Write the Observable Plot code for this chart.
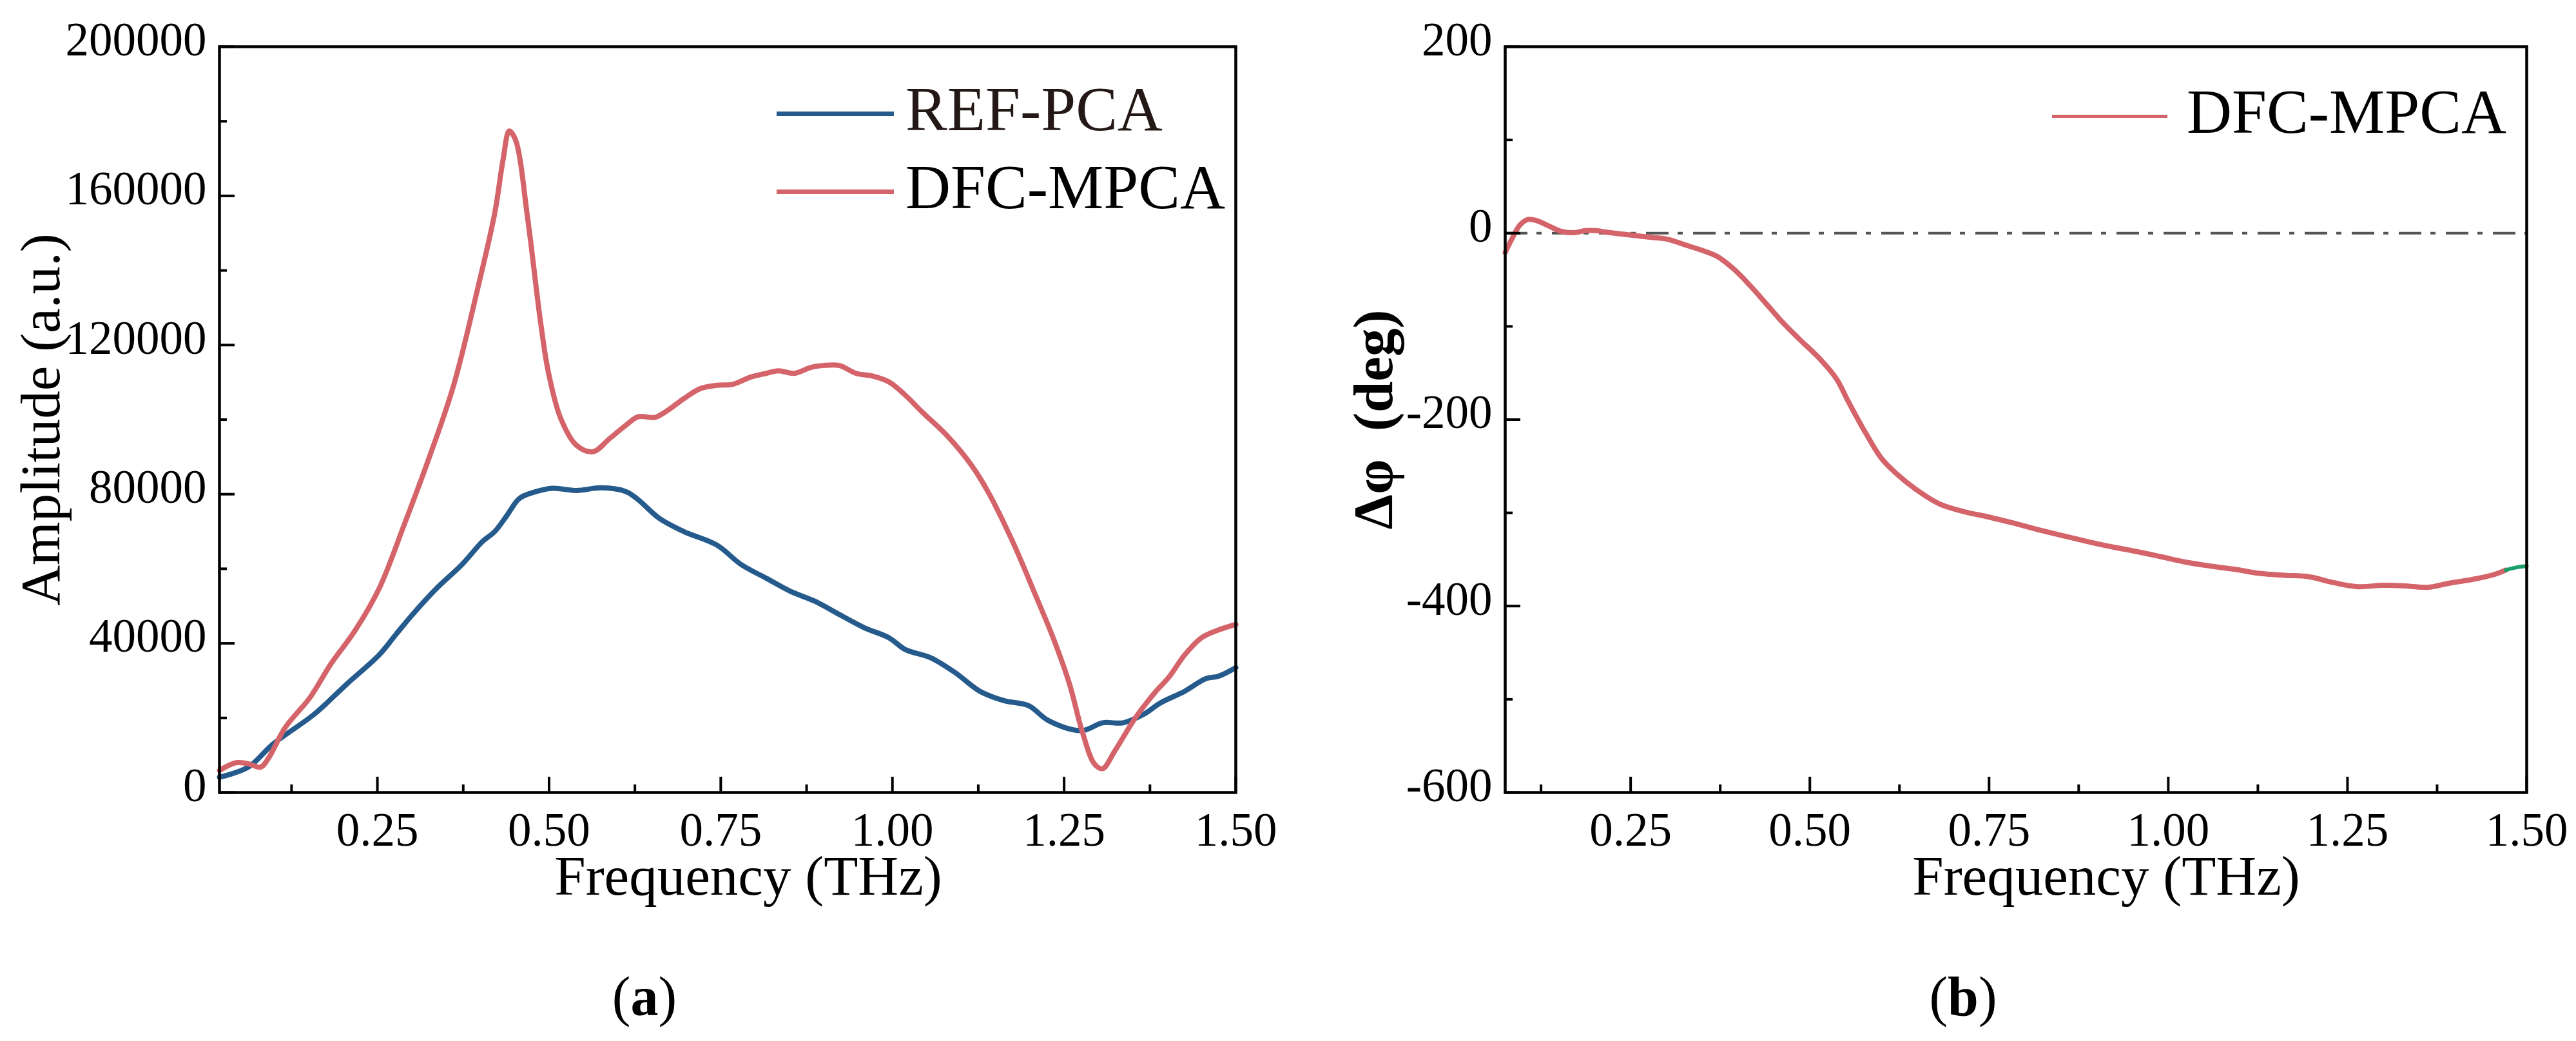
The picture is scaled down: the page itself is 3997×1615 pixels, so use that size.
<!DOCTYPE html>
<html>
<head>
<meta charset="utf-8">
<script src="https://cdn.jsdelivr.net/npm/d3@7"></script>
<script src="https://cdn.jsdelivr.net/npm/@observablehq/plot@0.6"></script>
<style>
body { margin: 0; background: #fff; font-family: "Liberation Serif", serif; }
#wrap { position: relative; width: 3997px; height: 1615px; overflow: hidden; }
.panel { position: absolute; top: 0; }
.leg-line { position: absolute; height: 0; }
.leg-text { position: absolute; font-size: 97px; line-height: 1; white-space: nowrap; }
.cap { position: absolute; font-size: 86px; line-height: 1; transform: translateX(-50%); }
</style>
</head>
<body>
<div id="wrap">
  <div id="chartA" class="panel" style="left:0"></div>
  <div id="chartB" class="panel" style="left:2000px"></div>

  <div class="leg-line" style="left:1205px;top:173px;width:182px;border-top:7px solid #255b8c"></div>
  <div class="leg-text" style="left:1405px;top:121px;color:#231815">REF-PCA</div>
  <div class="leg-line" style="left:1205px;top:294px;width:182px;border-top:7px solid #d4646a"></div>
  <div class="leg-text" style="left:1405px;top:242px;color:#000">DFC-MPCA</div>

  <div class="leg-line" style="left:3184px;top:178px;width:179px;border-top:5px solid #d4646a"></div>
  <div class="leg-text" style="left:3393px;top:125px;color:#000">DFC-MPCA</div>

  <div class="cap" style="left:1000px;top:1503px">(<b>a</b>)</div>
  <div class="cap" style="left:3046px;top:1503px">(<b>b</b>)</div>
</div>
<script>
// panel (a): amplitude spectra
const freqRef = [0.020, 0.062, 0.098, 0.158, 0.205, 0.253, 0.277, 0.301, 0.337, 0.373, 0.403, 0.421, 0.439, 0.457, 0.481, 0.505, 0.540, 0.576, 0.612, 0.630, 0.660, 0.696, 0.744, 0.780, 0.816, 0.851, 0.887, 0.923, 0.959, 0.995, 1.019, 1.055, 1.091, 1.127, 1.163, 1.198, 1.228, 1.276, 1.306, 1.336, 1.366, 1.390, 1.426, 1.456, 1.475, 1.500]
const ampRef = [4100, 6800, 13000, 21000, 29000, 37000, 42400, 47700, 54900, 61100, 67300, 70000, 74400, 78900, 80700, 81600, 81000, 81700, 80700, 78500, 73600, 70000, 66400, 61100, 57500, 54000, 51300, 47700, 44200, 41500, 38300, 36200, 32200, 27200, 24600, 23300, 19200, 16600, 18700, 18700, 21000, 24000, 27200, 30500, 31200, 33500]

const freqDfc = [0.020, 0.044, 0.062, 0.080, 0.092, 0.116, 0.152, 0.182, 0.217, 0.253, 0.289, 0.325, 0.361, 0.397, 0.421, 0.433, 0.442, 0.451, 0.469, 0.487, 0.499, 0.517, 0.540, 0.564, 0.588, 0.612, 0.630, 0.654, 0.672, 0.696, 0.720, 0.744, 0.768, 0.792, 0.816, 0.834, 0.857, 0.881, 0.899, 0.923, 0.947, 0.971, 0.995, 1.019, 1.043, 1.079, 1.115, 1.139, 1.175, 1.210, 1.234, 1.258, 1.276, 1.294, 1.306, 1.324, 1.354, 1.384, 1.402, 1.426, 1.450, 1.475, 1.500]
const ampDfc = [5900, 8000, 7700, 6800, 9400, 17500, 25500, 34400, 43300, 54900, 71800, 89600, 109200, 135900, 155500, 169700, 177400, 175100, 153700, 127000, 112700, 100300, 93100, 91400, 94900, 98500, 100800, 100600, 102400, 105600, 108300, 109200, 109500, 111300, 112400, 113100, 112400, 114000, 114500, 114500, 112400, 111700, 110100, 106500, 102100, 95800, 87800, 80700, 67300, 52200, 41500, 29000, 16600, 7700, 6400, 11200, 20100, 27200, 30800, 37000, 41500, 43600, 45100]

// panel (b): phase difference
const freqPhase = [0.075, 0.084, 0.096, 0.107, 0.119, 0.136, 0.153, 0.170, 0.187, 0.201, 0.222, 0.245, 0.279, 0.302, 0.325, 0.348, 0.371, 0.394, 0.417, 0.440, 0.462, 0.485, 0.514, 0.537, 0.554, 0.577, 0.600, 0.623, 0.646, 0.680, 0.715, 0.749, 0.783, 0.818, 0.852, 0.887, 0.921, 0.955, 0.990, 1.024, 1.059, 1.093, 1.127, 1.162, 1.196, 1.231, 1.265, 1.299, 1.334, 1.362, 1.391, 1.425, 1.454, 1.471]
const phase = [-20.8, -6.6, 9.1, 14.8, 13.4, 7.7, 2.0, 0.5, 2.7, 2.7, 0.5, -1.6, -4.5, -6.6, -12.3, -18.0, -25.1, -38.6, -56.5, -76.4, -95.6, -113.4, -134.8, -156.1, -181.1, -213.2, -241.7, -259.5, -273.7, -290.1, -298.7, -304.4, -310.8, -317.9, -324.3, -330.7, -336.4, -341.4, -347.1, -352.8, -357.1, -360.6, -364.9, -367.0, -368.5, -374.9, -379.2, -377.7, -378.5, -379.9, -375.6, -371.3, -366.3, -361.4]
const freqTail = [1.471, 1.485, 1.500]
const phaseTail = [-361.4, -358.6, -357.1]

const xMajor = [0.25, 0.5, 0.75, 1.0, 1.25, 1.5]
const xMinor = [0.125, 0.375, 0.625, 0.875, 1.125, 1.375]
const yMajorA = [0, 40000, 80000, 120000, 160000, 200000]
const yMinorA = [20000, 60000, 100000, 140000, 180000]
const yMajorB = [-600, -400, -200, 0, 200]
const yMinorB = [-500, -300, -100, 100]
const zeroLine = [0]

const blue = "#255b8c"
const red = "#d4646a"

const refTable = freqRef.map((f, i) => ({f, v: ampRef[i]}))
const dfcTable = freqDfc.map((f, i) => ({f, v: ampDfc[i]}))
const phaseTable = freqPhase.map((f, i) => ({f, v: phase[i]}))
const tailTable = freqTail.map((f, i) => ({f, v: phaseTail[i]}))

const font = "'Liberation Serif', 'Times New Roman', serif"
const plotH = 1157

function panel({width, marginLeft, marginRight, xDomain, yDomain, yMajor, yMinor, lines, yTitle, yTitleDx, yTitleWeight, xTitleDx, extra}) {
  const plotW = width - marginLeft - marginRight
  return Plot.plot({
    width: width,
    height: 1440,
    marginLeft: marginLeft,
    marginRight: marginRight,
    marginTop: 72,
    marginBottom: 1440 - 72 - plotH,
    style: {fontFamily: font, background: "#fff", color: "#000"},
    x: {domain: xDomain},
    y: {domain: yDomain},
    marks: [
      ...extra,
      ...lines,
      Plot.tickX(xMajor, {x: d => d, insetTop: plotH - 24, strokeWidth: 4}),
      Plot.tickX(xMinor, {x: d => d, insetTop: plotH - 12, strokeWidth: 4}),
      Plot.tickY(yMajor, {y: d => d, insetRight: plotW - 24, strokeWidth: 4}),
      Plot.tickY(yMinor, {y: d => d, insetRight: plotW - 12, strokeWidth: 4}),
      Plot.axisX(xMajor, {tickSize: 0, tickPadding: 31, tickFormat: d3.format(".2f"), label: null, fontSize: 73}),
      Plot.axisY(yMajor, {tickSize: 0, tickPadding: 20, tickFormat: d => String(d), label: null, fontSize: 73, dy: -10}),
      Plot.frame({strokeWidth: 4.5, stroke: "#000"}),
      // axis titles
      Plot.text(["Frequency (THz)"], {text: d => d, frameAnchor: "bottom", lineAnchor: "middle", textAnchor: "middle", dy: 131, dx: xTitleDx, fontSize: 87}),
      Plot.text([yTitle], {text: d => d, frameAnchor: "left", textAnchor: "middle", lineAnchor: "middle", rotate: -90, dx: yTitleDx, fontSize: 87, fontWeight: yTitleWeight})
    ]
  })
}

const chartA = panel({
  width: 2000, marginLeft: 340, marginRight: 83,
  xDomain: [0.02, 1.5], yDomain: [0, 200000],
  yMajor: yMajorA, yMinor: yMinorA,
  extra: [],
  lines: [
    Plot.line(refTable, {x: "f", y: "v", stroke: blue, strokeWidth: 8, curve: "catmull-rom"}),
    Plot.line(dfcTable, {x: "f", y: "v", stroke: red, strokeWidth: 8, curve: "catmull-rom"})
  ],
  yTitle: "Amplitude (a.u.)", yTitleDx: -276, yTitleWeight: "normal", xTitleDx: 32
})

const chartB = panel({
  width: 1997, marginLeft: 335, marginRight: 77,
  xDomain: [0.075, 1.5], yDomain: [-600, 200],
  yMajor: yMajorB, yMinor: yMinorB,
  extra: [Plot.ruleY(zeroLine, {stroke: "#555", strokeWidth: 4, strokeDasharray: "35,14,8,16"})],
  lines: [
    Plot.line(phaseTable, {x: "f", y: "v", stroke: red, strokeWidth: 8, curve: "catmull-rom"}),
    Plot.line(tailTable, {x: "f", y: "v", stroke: "#1a9e6a", strokeWidth: 6, curve: "catmull-rom"})
  ],
  yTitle: "Δφ\u00a0\u00a0(deg)", yTitleDx: -203, yTitleWeight: "bold", xTitleDx: 140
})

d3.select('#chartA').append(() => chartA)
d3.select('#chartB').append(() => chartB)
</script>
</body>
</html>
